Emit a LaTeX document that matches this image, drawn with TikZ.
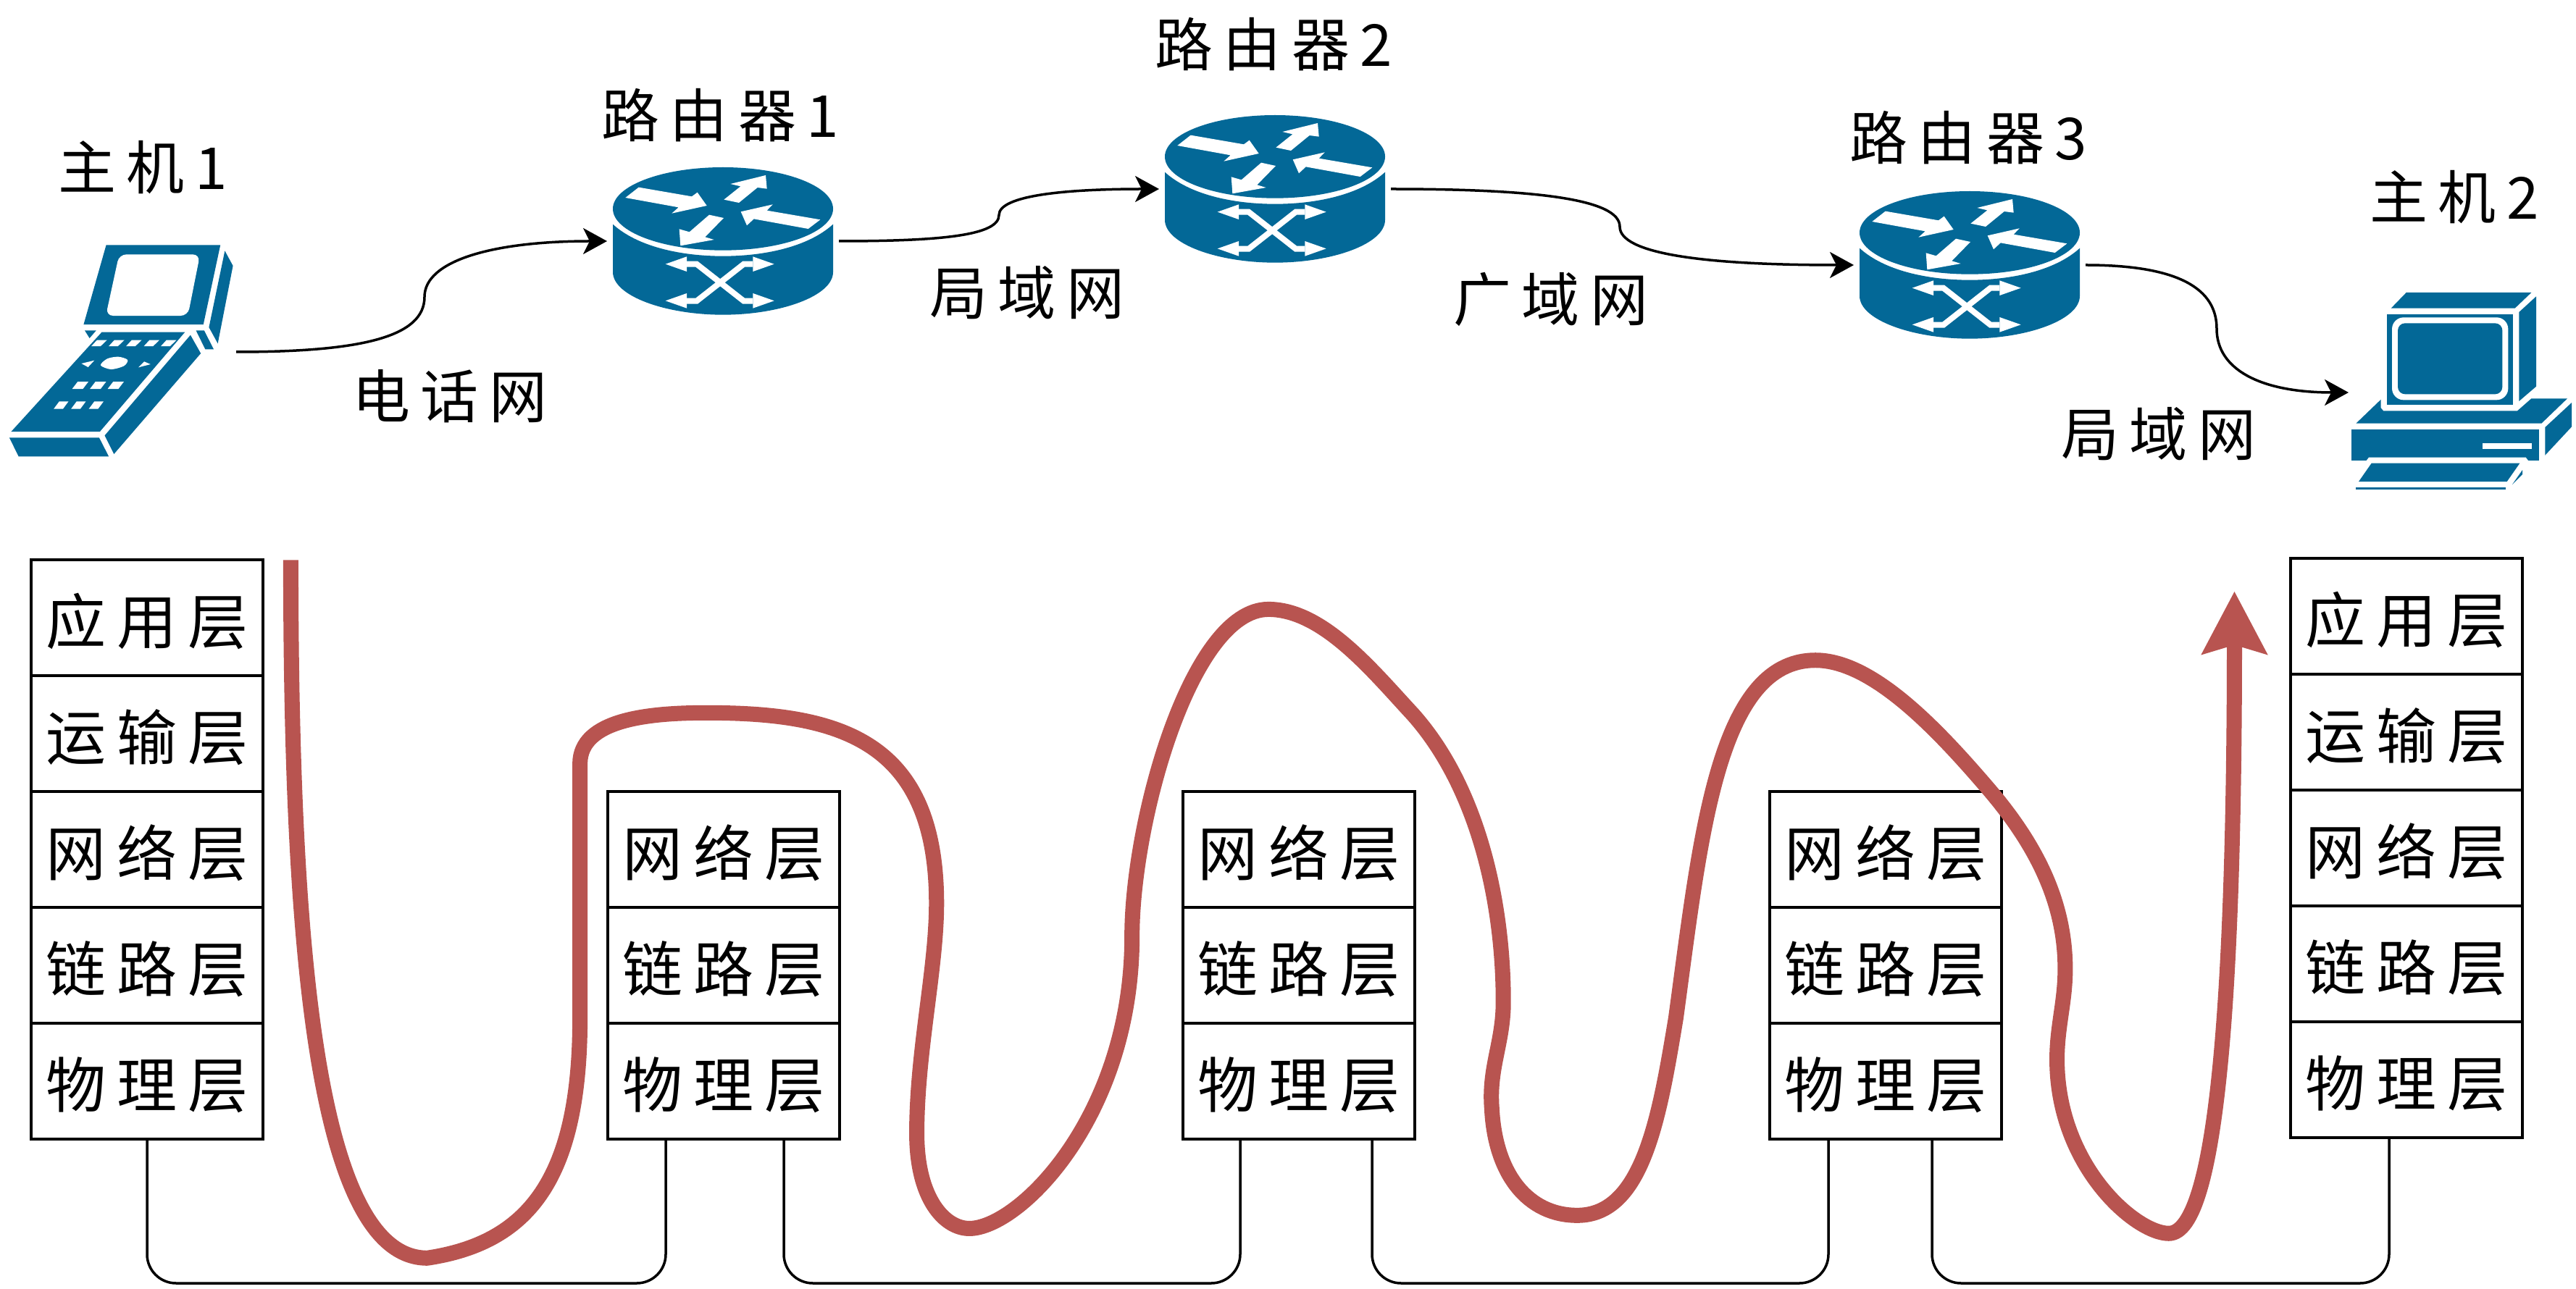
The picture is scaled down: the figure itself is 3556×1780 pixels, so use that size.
\documentclass[tikz,border=0pt]{standalone}
\usepackage{fontspec}
\setmainfont{Noto Sans CJK SC}
\newfontfamily\cjk[LetterSpace=18]{Noto Sans CJK SC}
\usetikzlibrary{arrows.meta}
\definecolor{ciscoblue}{HTML}{036897}
\definecolor{flowred}{HTML}{B85450}
\tikzset{
 cell/.style={draw=black,line width=1.75pt,minimum width=160pt,minimum height=80pt,inner sep=0pt,outer sep=0pt,
   text height=41pt,text depth=5pt,font=\cjk\fontsize{41.5pt}{48pt}\selectfont},
 lbl/.style={inner sep=0pt,font=\cjk\fontsize{40pt}{48pt}\selectfont},
 holder/.style={inner sep=0pt,outer sep=0pt,minimum height=10pt},
 link/.style={draw=black,line width=1.75pt,-{Stealth[length=16.5pt,width=18pt,inset=4.5pt]}},
 wire/.style={draw=black,line width=1.75pt,rounded corners=20pt},
 router/.pic={
  \begin{scope}[x=0.16667pt,y=-0.16667pt,shift={(-99pt,107pt)}]
   \fill[ciscoblue] (594,508) ellipse [x radius=456,y radius=172];
   \fill[ciscoblue] (138,572) .. controls (240,665) and (420,704) .. (594,704) .. controls (768,704) and (948,665) .. (1050,572) -- (1050,770) .. controls (1050,870) and (830,947) .. (594,947) .. controls (358,947) and (138,870) .. (138,770) -- cycle;
   \fill[white] (190,462)--(245,419)--(465,457)--(488,440)--(527,495)--(382,527)--(410,502)--cycle;
   \fill[white] (598,470)--(667,415)--(625,405)--(771,369)--(776,425)--(737,420)--(660,483)--cycle;
   \fill[white] (997,553)--(947,591)--(722,550)--(693,577)--(668,520)--(800,490)--(776,515)--cycle;
   \fill[white] (597,546)--(520,625)--(557,636)--(418,661)--(413,592)--(455,604)--(537,533)--cycle;
   \draw[white,line width=4pt] (444,737)--(485,737)--(680,890)--(718,890);
   \draw[white,line width=4pt] (444,890)--(485,890)--(680,737)--(718,737);
   \fill[white] (356,737)--(444,706)--(444,768)--cycle;
   \fill[white] (356,889)--(444,858)--(444,920)--cycle;
   \fill[white] (806,737)--(718,706)--(718,768)--cycle;
   \fill[white] (806,889)--(718,858)--(718,920)--cycle;
  \end{scope}
 },
 handset/.pic={
  \begin{scope}[x=0.2551pt,y=-0.16667pt,shift={(-83.42pt,167.83pt)}]
   \fill[ciscoblue] (287,564)--(596,564)--(550,893)--(226,893)--cycle;
   \fill[white,rounded corners=5pt] (322,603)--(541,603)--(508,857)--(286,857)--cycle;
   \fill[ciscoblue] (608,588)--(630,650)--(589,972)--(565,905)--cycle;
   \fill[ciscoblue] (229,918)--(260,918)--(242,950)--cycle;
   \fill[ciscoblue] (530,918)--(552,918)--(578,996)--(555,996)--cycle;
   \fill[ciscoblue] (275,925)--(500,925)--(270,1337)--(30,1337)--cycle;
   \foreach \k in {0,47,94,142,188}{\fill[white] (262+\k,958)--(289+\k,958)--(272+\k,983)--(247+\k,983)--cycle;}
   \fill[white] plot[smooth cycle] coordinates {(272,1062)(290,1035)(320,1027)(345,1040)(335,1065)(300,1079)};
   \fill[white] (255,1042)--(220,1055)--(238,1070)--cycle;
   \fill[white] (390,1047)--(407,1058)--(374,1071)--cycle;
   \foreach \k in {0,48,96}{\fill[white] (210+\k,1130)--(239+\k,1130)--(224+\k,1160)--(195+\k,1160)--cycle;}
   \foreach \k in {0,47,95}{\fill[white] (160+\k,1212)--(185+\k,1212)--(170+\k,1243)--(145+\k,1243)--cycle;}
   \fill[ciscoblue] (515,937)--(543,1013)--(308,1430)--(283,1353)--cycle;
   \fill[ciscoblue] (25,1362)--(268,1362)--(294,1440)--(50,1440)--cycle;
  \end{scope}
 },
 desktop/.pic={
  \begin{scope}[x=0.16667pt,y=-0.16667pt,shift={(-124pt,96pt)}]
   \fill[ciscoblue] (515,162)--(1033,162)--(965,227)--(452,227)--cycle;
   \fill[ciscoblue] (1053,178)--(1053,551)--(982,612)--(982,243)--cycle;
   \fill[ciscoblue] (434,252) rectangle (957,627);
   \fill[white,rounded corners=8pt] (456,265) rectangle (937,607);
   \fill[ciscoblue,rounded corners=5pt] (480,289) rectangle (913,583);
   \fill[ciscoblue] (410,605)--(410,640)--(420,652)--(975,652)--(1033,601)--(1182,601)--(1075,704)--(307,704)--cycle;
   \fill[ciscoblue] (288,729) rectangle (1066,857);
   \fill[white] (830,787) rectangle (1034,811);
   \fill[white] (350,858)--(360,845)--(1010,845)--(1020,858)--cycle;
   \fill[ciscoblue] (1200,618)--(1200,718)--(1090,836)--(1090,720)--cycle;
   \fill[ciscoblue] (371,869)--(985,869)--(932,945)--(318,945)--cycle;
   \fill[ciscoblue] (307,970) rectangle (927,977);
   \fill[ciscoblue] (996,897)--(996,915)--(954,957)--cycle;
  \end{scope}
 }
}
\begin{document}
\begin{tikzpicture}[x=0.5pt,y=-0.5pt]
\useasboundingbox (0,0) rectangle (3556,1780);

% devices
\node[holder,minimum width=159pt] (h1) at (167,486) {};
\node[holder,minimum width=160pt] (r1) at (998,333) {};
\node[holder,minimum width=160pt] (r2) at (1760,261) {};
\node[holder,minimum width=160pt] (r3) at (2719,366) {};
\node[holder,minimum width=156pt] (h2) at (3398,542) {};
\pic at (h1.center) {handset};
\pic at (r1.center) {router};
\pic at (r2.center) {router};
\pic at (r3.center) {router};
\pic at (h2.center) {desktop};

% device labels
\node[lbl] (lh1) at (197,231) {主机1};
\node[lbl] (lr1) at (994,159) {路由器1};
\node[lbl] (lr2) at (1758,61) {路由器2};
\node[lbl] (lr3) at (2717,190) {路由器3};
\node[lbl] (lh2) at (3388,272) {主机2};
\node[lbl] (n1) at (621,547) {电话网};
\node[lbl] (n2) at (1418,404) {局域网};
\node[lbl] (n3) at (2141,413) {广域网};
\node[lbl] (n4) at (2980,599) {局域网};

% links
\coordinate (m1) at (586,410);
\coordinate (m2) at (1379,297);
\coordinate (m3) at (2236,313);
\coordinate (m4) at (3060,454);
\draw[link] (h1.east) .. controls (500,486) and (586,465) .. (m1) .. controls (586,360) and (680,333) .. (r1.west);
\draw[link] (r1.east) .. controls (1300,333) and (1379,325) .. (m2) .. controls (1379,270) and (1470,261) .. (r2.west);
\draw[link] (r2.east) .. controls (2120,261) and (2236,275) .. (m3) .. controls (2236,350) and (2350,366) .. (r3.west);
\draw[link] (r3.east) .. controls (3010,366) and (3060,400) .. (m4) .. controls (3060,510) and (3120,542) .. (h2.west);

% stacks
\node[cell] (a1) at (203,853) {应用层};
\node[cell] (a2) at (203,1013) {运输层};
\node[cell] (a3) at (203,1173) {网络层};
\node[cell] (a4) at (203,1333) {链路层};
\node[cell] (a5) at (203,1493) {物理层};
\node[cell] (b3) at (999,1173) {网络层};
\node[cell] (b4) at (999,1333) {链路层};
\node[cell] (b5) at (999,1493) {物理层};
\node[cell] (c3) at (1793,1173) {网络层};
\node[cell] (c4) at (1793,1333) {链路层};
\node[cell] (c5) at (1793,1493) {物理层};
\node[cell] (d3) at (2603,1173) {网络层};
\node[cell] (d4) at (2603,1333) {链路层};
\node[cell] (d5) at (2603,1493) {物理层};
\node[cell] (e1) at (3322,851) {应用层};
\node[cell] (e2) at (3322,1011) {运输层};
\node[cell] (e3) at (3322,1171) {网络层};
\node[cell] (e4) at (3322,1331) {链路层};
\node[cell] (e5) at (3322,1491) {物理层};

% wires
\coordinate (w1a) at (a5.south);
\coordinate (w1b) at ([xshift=40pt]b5.south west);
\coordinate (w2a) at ([xshift=121.5pt]b5.south west);
\coordinate (w2b) at ([xshift=39.5pt]c5.south west);
\coordinate (w3a) at ([xshift=130.5pt]c5.south west);
\coordinate (w3b) at ([xshift=40.5pt]d5.south west);
\coordinate (w4a) at ([xshift=112pt]d5.south west);
\coordinate (w4b) at ([xshift=68pt]e5.south west);
\draw[wire] (w1a) -- (w1a |- 0,1772) -- (w1b |- 0,1772) -- (w1b);
\draw[wire] (w2a) -- (w2a |- 0,1772) -- (w2b |- 0,1772) -- (w2b);
\draw[wire] (w3a) -- (w3a |- 0,1772) -- (w3b |- 0,1772) -- (w3b);
\draw[wire] (w4a) -- (w4a |- 0,1772) -- (w4b |- 0,1772) -- (w4b);

% flow
\begin{scope}[x=1.134pt,y=-1.134pt]
\draw[flowred,line width=10.5pt,line join=round,-{Stealth[length=43pt,width=44pt,inset=6pt]}]
 (177,341) .. controls (177,560) and (190,766) .. (260,766)
 .. controls (320,757) and (353,720) .. (353,620) -- (353,465)
 .. controls (353,438) and (395,434) .. (430,434)
 .. controls (510,434) and (570,450) .. (570,550)
 .. controls (570,590) and (558,640) .. (558,690)
 .. controls (558,730) and (575,748) .. (590,748)
 .. controls (620,748) and (689,680) .. (689,570)
 .. controls (689,500) and (725,371) .. (772,371)
 .. controls (805,371) and (835,408) .. (860,435)
 .. controls (900,480) and (915,550) .. (915,610)
 .. controls (915,635) and (906,650) .. (908,675)
 .. controls (910,715) and (930,740) .. (960,740)
 .. controls (1000,740) and (1010,680) .. (1020,620)
 .. controls (1035,510) and (1045,402) .. (1105,402)
 .. controls (1140,402) and (1180,445) .. (1210,480)
 .. controls (1240,515) and (1257,550) .. (1257,590)
 .. controls (1257,610) and (1252,625) .. (1252,645)
 .. controls (1252,710) and (1300,751) .. (1320,751)
 .. controls (1350,751) and (1360,600) .. (1360,360);
\end{scope}
\end{tikzpicture}
\end{document}
